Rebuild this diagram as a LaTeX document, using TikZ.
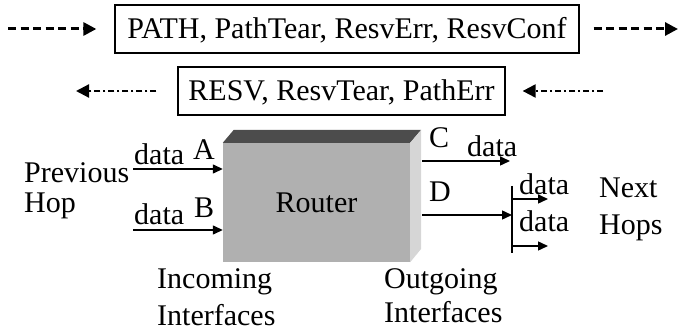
\documentclass[tikz,border=0pt]{standalone}
\usepackage{fontspec}
\setmainfont{Liberation Serif}
\usetikzlibrary{arrows.meta,calc}
\definecolor{frontgray}{HTML}{B0B0B0}
\definecolor{topgray}{HTML}{4C4C4C}
\definecolor{sidegray}{HTML}{D6D6D6}
\begin{document}
\begin{tikzpicture}[x=1pt,y=-1pt,
  every node/.style={font=\fontsize{30}{35}\selectfont, inner sep=0pt},
  msgbox/.style={draw, line width=1.3pt, minimum height=48pt, text height=20pt, text depth=0pt},
  lbl/.style={anchor=base west},
  tip/.style={-{Triangle[length=10pt,width=9pt]}},
  bigtip/.style={-{Triangle[length=13pt,width=13pt]}},
  flow/.style={tip, line width=1.4pt},
  fwd/.style={bigtip, line width=3pt, dash pattern=on 8pt off 4.5pt},
  bwd/.style={bigtip, line width=2.2pt, dash pattern=on 6pt off 3pt on 2pt off 3pt},
]
\useasboundingbox (0,0) rectangle (683,331);

% message boxes and their directions
\node[msgbox, minimum width=464pt] (fwdbox) at (347,29) {PATH, PathTear, ResvErr, ResvConf};
\node[msgbox, minimum width=327pt] (bwdbox) at (341.5,91) {RESV, ResvTear, PathErr};

\coordinate (fL) at (8,29);
\coordinate (fR) at (678,29);
\draw[fwd] (fL) -- ([xshift=-18pt]fwdbox.west);
\draw[fwd] ([xshift=14pt]fwdbox.east) -- (fR);

\coordinate (bL) at (76,91);
\coordinate (bR) at (603,91);
\draw[bwd] ([xshift=-21pt]bwdbox.west) -- (bL);
\draw[bwd] (bR) -- ([xshift=17pt]bwdbox.east);

% router block: front, top and side faces
\node[fill=frontgray, minimum width=187pt, minimum height=119pt] (router) at (316.5,202.5) {Router};
\fill[topgray] (router.north west) -- ++(11,-13) -- ($(router.north east)+(11,-13)$) -- (router.north east) -- cycle;
\fill[sidegray] (router.north east) -- ++(11,-13) -- ++(0,119) -- (router.south east) -- cycle;

% incoming interfaces
\coordinate (inA) at (133,169);
\coordinate (inB) at (133,230);
\draw[flow] (inA) -- (inA -| router.west);
\draw[flow] (inB) -- (inB -| router.west);

% outgoing interfaces
\coordinate (outC) at (422,161);
\coordinate (endC) at (510,161);
\coordinate (outD) at (422,215);
\coordinate (barTop) at (512,186);
\coordinate (barBot) at (512,253);
\draw[flow] (outC) -- (endC);
\draw[flow] (outD) -- (outD -| barTop);
\draw[line width=1.4pt] (barTop) -- (barBot);
\draw[flow] ($(barTop)+(0,13)$) -- ++(36,0);
\draw[flow] ($(barTop)+(0,60)$) -- ++(36,0);

% labels
\node[lbl] (prev) at (24,183) {Previous};
\node[lbl] (hop) at (24,213) {Hop};
\node[lbl] (dA) at (134,165) {data};
\node[lbl] (lA) at (193,160) {A};
\node[lbl] (dB) at (134,225) {data};
\node[lbl] (lB) at (194,218) {B};
\node[lbl] (inc1) at (157,288) {Incoming};
\node[lbl] (inc2) at (157,325) {Interfaces};
\node[lbl] (lC) at (429,148) {C};
\node[lbl] (dC) at (467,157) {data};
\node[lbl] (lD) at (429,202) {D};
\node[lbl] (dD1) at (519,195) {data};
\node[lbl] (dD2) at (519,232) {data};
\node[lbl] (next1) at (599,198) {Next};
\node[lbl] (next2) at (599,235) {Hops};
\node[lbl] (out1) at (384,288) {Outgoing};
\node[lbl] (out2) at (384,322) {Interfaces};
\end{tikzpicture}
\end{document}
